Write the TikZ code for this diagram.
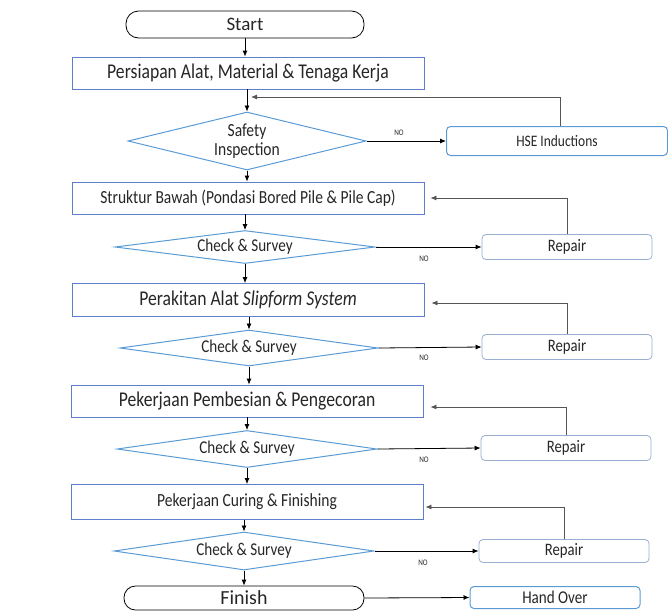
\documentclass[tikz,border=0pt]{standalone}
\usepackage{fontspec}
\setmainfont{Carlito}[FakeStretch=0.84]
\newfontfamily\plainfont{Carlito}
\usetikzlibrary{shapes.geometric,arrows.meta}
\definecolor{boxblue}{HTML}{5B7FCB}
\definecolor{diablue}{HTML}{5B9BD5}
\definecolor{repcol}{HTML}{9AAED2}
\definecolor{txt}{HTML}{262626}
\definecolor{fbgray}{HTML}{555555}
\begin{document}
\begin{tikzpicture}[x=1pt,y=-1pt,
  procbox/.style={draw=boxblue, line width=0.8pt, minimum width=352pt, minimum height=32pt, inner sep=1pt, text=txt},
  decision/.style={diamond, aspect=7, draw=diablue, line width=1pt, inner sep=0pt, text=txt, align=center, font=\fontsize{18}{19}\selectfont},
  terminal/.style={draw=black, line width=0.8pt, rounded corners=12.5pt, minimum width=238pt, minimum height=27pt, inner sep=1pt, text=txt},
  repairbox/.style={draw=repcol, line width=0.8pt, rounded corners=4pt, minimum width=170pt, minimum height=25pt, inner sep=1pt, text=txt, font=\fontsize{17.5}{19}\selectfont},
  bluebox/.style={draw=diablue, line width=1pt, rounded corners=4pt, inner sep=1pt, text=txt},
  flow/.style={-{Latex[length=6pt,width=5pt]}, line width=0.8pt},
  fb/.style={-{Latex[length=6pt,width=5pt]}, line width=0.8pt, draw=fbgray},
  nolabel/.style={font=\fontsize{8.5}{9}\selectfont, text=txt, inner sep=0pt}]
\useasboundingbox (0,0) rectangle (668,611);

% terminals and boxes
\node[terminal, font=\plainfont\fontsize{19}{21}\selectfont] (start) at (245,24.5) {Start};
\node[procbox, font=\fontsize{21}{23}\selectfont] (b1) at (248,73) {Persiapan Alat, Material \& Tenaga Kerja};
\node[decision, aspect=4, minimum width=238pt, minimum height=58pt, font=\fontsize{18.5}{19}\selectfont] (d1) at (247,141) {Safety\\Inspection};
\node[bluebox, minimum width=221pt, minimum height=29pt, font=\fontsize{16}{18}\selectfont] (hse) at (557,141) {HSE Inductions};

\node[procbox, font=\fontsize{18.5}{20}\selectfont] (b2) at (248,198) {Struktur Bawah (Pondasi Bored Pile \& Pile Cap)};
\node[decision, minimum width=260pt, minimum height=33pt] (d2) at (245,247) {Check \& Survey};
\node[repairbox] (r1) at (567,247) {Repair};

\node[procbox, font=\fontsize{21}{23}\selectfont, minimum height=33pt] (b3) at (248,300) {Perakitan Alat \textit{Slipform System}};
\node[decision, minimum width=258pt, minimum height=36pt] (d3) at (249,348) {Check \& Survey};
\node[repairbox] (r2) at (567,347) {Repair};

\node[procbox, font=\fontsize{21}{23}\selectfont] (b4) at (247,401) {Pekerjaan Pembesian \& Pengecoran};
\node[decision, minimum width=260pt, minimum height=37pt] (d4) at (247,449) {Check \& Survey};
\node[repairbox] (r3) at (566,448) {Repair};

\node[procbox, font=\fontsize{18.5}{20}\selectfont, minimum height=35pt] (b5) at (247,502) {Pekerjaan Curing \& Finishing};
\node[decision, minimum width=260pt, minimum height=38pt] (d5) at (244,551) {Check \& Survey};
\node[repairbox, minimum height=23pt] (r4) at (564,551) {Repair};

\node[terminal, font=\plainfont\fontsize{20}{22}\selectfont, minimum width=240pt, minimum height=24pt, rounded corners=11.5pt] (finish) at (244,598) {Finish};
\node[bluebox, minimum width=170pt, minimum height=22pt, font=\fontsize{18}{20}\selectfont] (ho) at (555,597.5) {Hand Over};

% NO labels
\node[nolabel] (no1) at (399,133) {NO};
\node[nolabel] (no2) at (424,259) {NO};
\node[nolabel] (no3) at (424,358) {NO};
\node[nolabel] (no4) at (424,460) {NO};
\node[nolabel] (no5) at (423,563) {NO};

% main flow
\draw[flow] (start.south) -- (start.south |- b1.north);
\draw[flow] (d1.north |- b1.south) -- (d1.north);
\draw[flow] (d1.south) -- (d1.south |- b2.north);
\draw[flow] (d2.north |- b2.south) -- (d2.north);
\draw[flow] (d2.south) -- (d2.south |- b3.north);
\draw[flow] (d3.north |- b3.south) -- (d3.north);
\draw[flow] (d3.south) -- (d3.south |- b4.north);
\draw[flow] (d4.north |- b4.south) -- (d4.north);
\draw[flow] (d4.south) -- (d4.south |- b5.north);
\draw[flow] (d5.north |- b5.south) -- (d5.north);
\draw[flow] (d5.south) -- (d5.south |- finish.north);

% NO branches
\draw[flow] (d1.east) -- (hse.west);
\draw[flow] (d2.east) -- (r1.west);
\draw[flow] (d3.east) -- (r2.west);
\draw[flow] (d4.east) -- (r3.west);
\draw[flow] (d5.east) -- (r4.west);
\draw[flow] (finish.east) -- (ho.west);

% feedback loops
\coordinate (j1) at (247,97);
\draw[fb, shorten >=4pt] (hse.north -| 560,0) |- (j1);
\draw[fb, shorten >=6pt] (r1.north) |- (b2.east);
\draw[fb, shorten >=7pt] (r2.north) |- ([yshift=-3pt]b3.east);
\draw[fb, shorten >=7pt] (r3.north) |- ([yshift=-6pt]b4.east);
\draw[fb, shorten >=2pt] (r4.north) |- ([yshift=-5pt]b5.east);
\end{tikzpicture}
\end{document}
